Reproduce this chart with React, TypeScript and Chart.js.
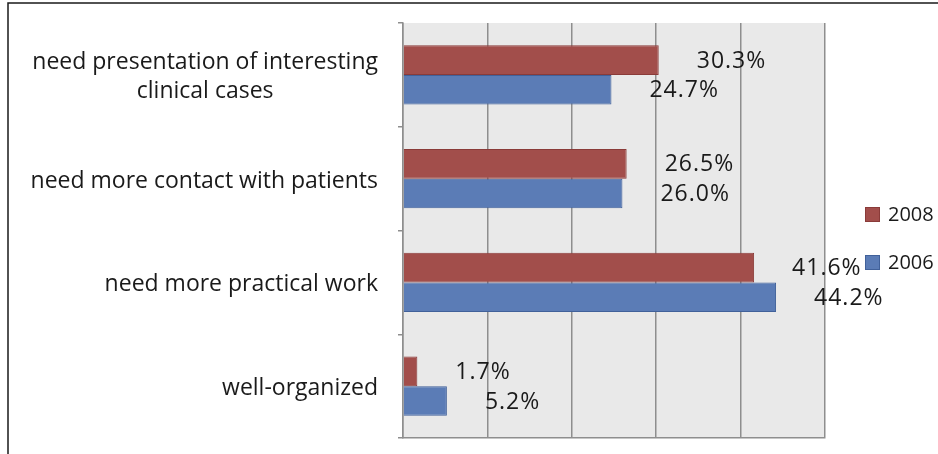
import React, { useEffect, useRef } from "react";
import { Chart, registerables } from "chart.js";

Chart.register(...registerables);

const categories: string[][] = [
  ["need presentation of interesting", "clinical cases"],
  ["need more contact with patients"],
  ["need more practical work"],
  ["well-organized"],
];
const seriesNames = ["2008", "2006"];
const values2008 = [30.3, 26.5, 41.6, 1.7];
const values2006 = [24.7, 26.0, 44.2, 5.2];
const xTicks = [0, 10, 20, 30, 40, 50];

const RED = "#A24E4B";
const RED_BORDER = "#8A3B39";
const BLUE = "#5B7CB6";
const BLUE_BORDER = "#41619A";
const GRID = "#8E8E8E";
const FONT = "'Open Sans', Lato, sans-serif";

const decorPlugin = {
  id: "decor",
  beforeDraw(chart: any) {
    const { ctx, chartArea } = chart;
    ctx.save();
    ctx.fillStyle = "#ffffff";
    ctx.fillRect(0, 0, chart.width, chart.height);
    ctx.fillStyle = "#E9E9E9";
    ctx.fillRect(chartArea.left, chartArea.top, chartArea.right - chartArea.left, chartArea.bottom - chartArea.top);
    ctx.restore();
  },
  afterDraw(chart: any) {
    const { ctx, chartArea } = chart;
    const yScale = chart.scales.y;
    ctx.save();
    // outer frame
    ctx.strokeStyle = "#1a1a1a";
    ctx.lineWidth = 1.5;
    ctx.strokeRect(8, 3, 2000, 2000);

    // category labels
    ctx.fillStyle = "#1a1a1a";
    ctx.font = `23px ${FONT}`;
    ctx.textBaseline = "alphabetic";
    const rightX = chartArea.left - 25;
    categories.forEach((lines, i) => {
      const cy = yScale.getPixelForValue(i);
      const widest = Math.max(...lines.map((l) => ctx.measureText(l).width));
      const center = rightX - widest / 2;
      ctx.textAlign = "center";
      lines.forEach((line, j) => {
        const y = cy + 9 + (j - (lines.length - 1) / 2) * 29;
        ctx.fillText(line, center, y);
      });
    });

    // value labels
    ctx.font = `23px ${FONT}`;
    (ctx as any).letterSpacing = "1px";
    ctx.textAlign = "left";
    ctx.textBaseline = "middle";
    chart.data.datasets.forEach((ds: any, di: number) => {
      const meta = chart.getDatasetMeta(di);
      meta.data.forEach((el: any, k: number) => {
        const v = ds.data[k];
        ctx.fillText(v.toFixed(1) + "%", el.x + 38, el.y + 1);
      });
    });
    (ctx as any).letterSpacing = "0px";

    // legend
    const midY = (chartArea.top + chartArea.bottom) / 2;
    ctx.font = `20px ${FONT}`;
    chart.data.datasets.forEach((ds: any, di: number) => {
      const cy = midY - 16 + di * 48;
      const x = chartArea.right + 40;
      ctx.fillStyle = ds.backgroundColor;
      ctx.fillRect(x, cy - 7.5, 15, 15);
      ctx.strokeStyle = ds.borderColor;
      ctx.lineWidth = 1;
      ctx.strokeRect(x + 0.5, cy - 7, 14, 14);
      ctx.fillStyle = "#1a1a1a";
      ctx.textBaseline = "middle";
      ctx.fillText(ds.label, x + 23, cy + 1);
    });
    ctx.restore();
  },
};

export default function App() {
  const canvasRef = useRef<HTMLCanvasElement | null>(null);

  useEffect(() => {
    if (!canvasRef.current) return;
    const chart = new Chart(canvasRef.current, {
      type: "bar",
      data: {
        labels: categories.map((c) => c.join(" ")),
        datasets: [
          {
            label: seriesNames[0],
            data: values2008,
            backgroundColor: RED,
            borderColor: RED_BORDER,
            borderWidth: 1,
            categoryPercentage: 0.572,
            barPercentage: 1,
          },
          {
            label: seriesNames[1],
            data: values2006,
            backgroundColor: BLUE,
            borderColor: BLUE_BORDER,
            borderWidth: 1,
            categoryPercentage: 0.572,
            barPercentage: 1,
          },
        ],
      },
      options: {
        indexAxis: "y",
        responsive: false,
        animation: false,
        layout: { padding: { left: 398, right: 113, top: 23, bottom: 16 } },
        plugins: {
          legend: { display: false },
          tooltip: { enabled: false },
        },
        scales: {
          x: {
            min: xTicks[0],
            max: xTicks[xTicks.length - 1],
            afterBuildTicks: (scale: any) => {
              scale.ticks = xTicks.map((v) => ({ value: v }));
            },
            ticks: { display: false },
            grid: { color: GRID, lineWidth: 1.5, drawTicks: false },
            border: { display: true, color: GRID, width: 1.5 },
          },
          y: {
            ticks: { display: false },
            grid: { drawOnChartArea: false, offset: true, tickLength: 5, color: GRID, lineWidth: 1.5 },
            border: { display: true, color: GRID, width: 1.5 },
          },
        },
      },
      plugins: [decorPlugin],
    });
    return () => chart.destroy();
  }, []);

  return (
    <div style={{ position: "fixed", left: 0, top: 0, width: 938, height: 454, background: "#fff" }}>
      <canvas ref={canvasRef} width={938} height={454} style={{ display: "block" }} />
    </div>
  );
}
